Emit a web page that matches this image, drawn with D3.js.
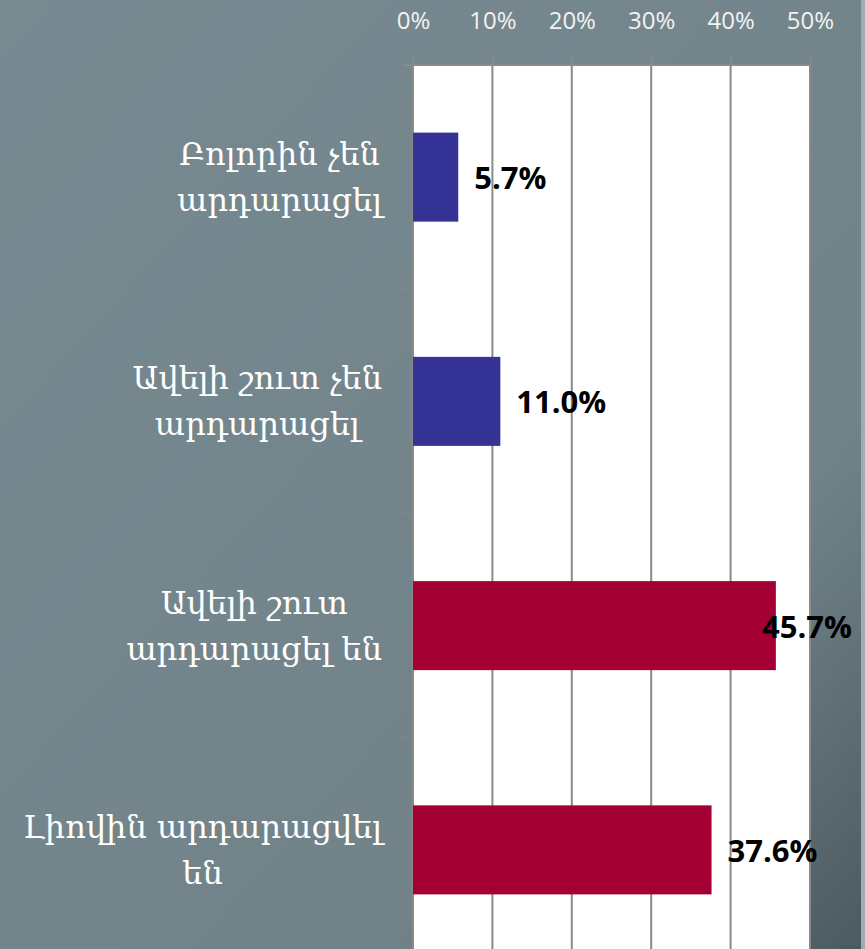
<!DOCTYPE html>
<html>
<head>
<meta charset="utf-8">
<script src="https://cdn.jsdelivr.net/npm/d3@7"></script>
<style>
  body { margin: 0; overflow: hidden; }
  svg { display: block; }
</style>
</head>
<body>
<svg width="865" height="949"></svg>
<script>
// data
const categories = ["c1", "c2", "c3", "c4"];
const labelLines = [
    ["Բոլորին չեն", "արդարացել"],
    ["Ավելի շուտ չեն", "արդարացել"],
    ["Ավելի շուտ", "արդարացել են"],
    ["Լիովին արդարացվել", "են"]
];
const values = [5.7, 11.0, 45.7, 37.6];
const colors = ["#353395", "#353395", "#a50034", "#a50034"];
const tickValues = [0, 10, 20, 30, 40, 50];

const W = 865, H = 949;
const svg = d3.select("svg");

// background gradient
const defs = svg.append("defs");
const grad = defs.append("linearGradient").attr("id", "bg")
    .attr("x1", "0").attr("y1", "0").attr("x2", "1").attr("y2", "1");
grad.append("stop").attr("offset", "0%").attr("stop-color", "#788a91");
grad.append("stop").attr("offset", "72%").attr("stop-color", "#718389");
grad.append("stop").attr("offset", "100%").attr("stop-color", "#4c5a60");
svg.append("rect").attr("width", W).attr("height", H).attr("fill", "url(#bg)");
svg.append("rect").attr("x", 861).attr("width", 4).attr("height", H).attr("fill", "#9aaeb5");

const plotLeft = 413, plotRight = 810, plotTop = 65;
const step = 224.25;

const x = d3.scaleLinear().domain([0, 50]).range([plotLeft, plotRight]);
const y = d3.scaleBand().domain(categories)
    .range([plotTop, plotTop + step * 4])
    .paddingInner(0.603).paddingOuter(0.3015);

// plot area
svg.append("rect")
    .attr("x", plotLeft).attr("y", plotTop)
    .attr("width", plotRight - plotLeft).attr("height", H - plotTop)
    .attr("fill", "#ffffff");

// gridlines
svg.append("g")
    .selectAll("line")
    .data(tickValues.slice(1))
    .enter().append("line")
    .attr("x1", d => x(d)).attr("x2", d => x(d))
    .attr("y1", plotTop).attr("y2", H)
    .attr("stroke", "#8a8a8a").attr("stroke-width", 2);

// category axis line + ticks
svg.append("line")
    .attr("x1", plotLeft).attr("x2", plotLeft).attr("y1", plotTop).attr("y2", H)
    .attr("stroke", "#8a8a8a").attr("stroke-width", 2);
svg.append("g")
    .selectAll("line")
    .data(d3.range(1, 4))
    .enter().append("line")
    .attr("x1", plotLeft - 11).attr("x2", plotLeft)
    .attr("y1", i => plotTop + i * step).attr("y2", i => plotTop + i * step)
    .attr("stroke", "#8a8a8a").attr("stroke-opacity", 0.35).attr("stroke-width", 2);

// top value axis
const axis = svg.append("g")
    .attr("transform", "translate(0," + plotTop + ")")
    .call(d3.axisTop(x).tickValues(tickValues).tickSize(8).tickPadding(28).tickFormat(d => d + "%"));
axis.select(".domain").remove();
axis.append("line").attr("x1", plotLeft - 11).attr("x2", plotRight).attr("y1", 0).attr("y2", 0)
    .attr("stroke", "#8a8a8a").attr("stroke-width", 2);
axis.selectAll(".tick line").attr("stroke", "#8a8a8a").attr("stroke-width", 2);
axis.selectAll(".tick text")
    .attr("fill", "#f2f2f2")
    .style("font-family", "'Open Sans', sans-serif")
    .style("font-size", "24px");

// bars
svg.selectAll(".bar")
    .data(values)
    .enter().append("rect")
    .attr("class", "bar")
    .attr("x", x(0))
    .attr("y", (d, i) => y(categories[i]))
    .attr("width", d => x(d) - x(0))
    .attr("height", y.bandwidth())
    .attr("fill", (d, i) => colors[i]);

// value labels
svg.selectAll(".val")
    .data(values)
    .enter().append("text")
    .attr("class", "val")
    .attr("y", (d, i) => y(categories[i]) + y.bandwidth() / 2 + 12)
    .style("font-family", "'Open Sans', sans-serif")
    .style("font-weight", "bold")
    .style("font-size", "31px")
    .attr("fill", "#000")
    .text(d => d.toFixed(1) + "%")
    .each(function (d) {
        const w = this.getComputedTextLength();
        this.setAttribute("x", Math.min(x(d) + 16, W - 13 - w));
    });

// category labels
const catRight = 382;
labelLines.forEach((lines, i) => {
    const cy = y(categories[i]) + y.bandwidth() / 2;
    const g = svg.append("g");
    const texts = g.selectAll("text")
        .data(lines)
        .enter().append("text")
        .attr("y", (d, j) => cy - 12 + j * 46)
        .attr("text-anchor", "middle")
        .attr("fill", "#ffffff")
        .style("font-family", "'DejaVu Serif', serif")
        .style("font-size", "32px")
        .text(d => d);
    let maxW = 0;
    texts.each(function () { maxW = Math.max(maxW, this.getComputedTextLength()); });
    texts.attr("x", catRight - maxW / 2);
});
</script>
</body>
</html>
